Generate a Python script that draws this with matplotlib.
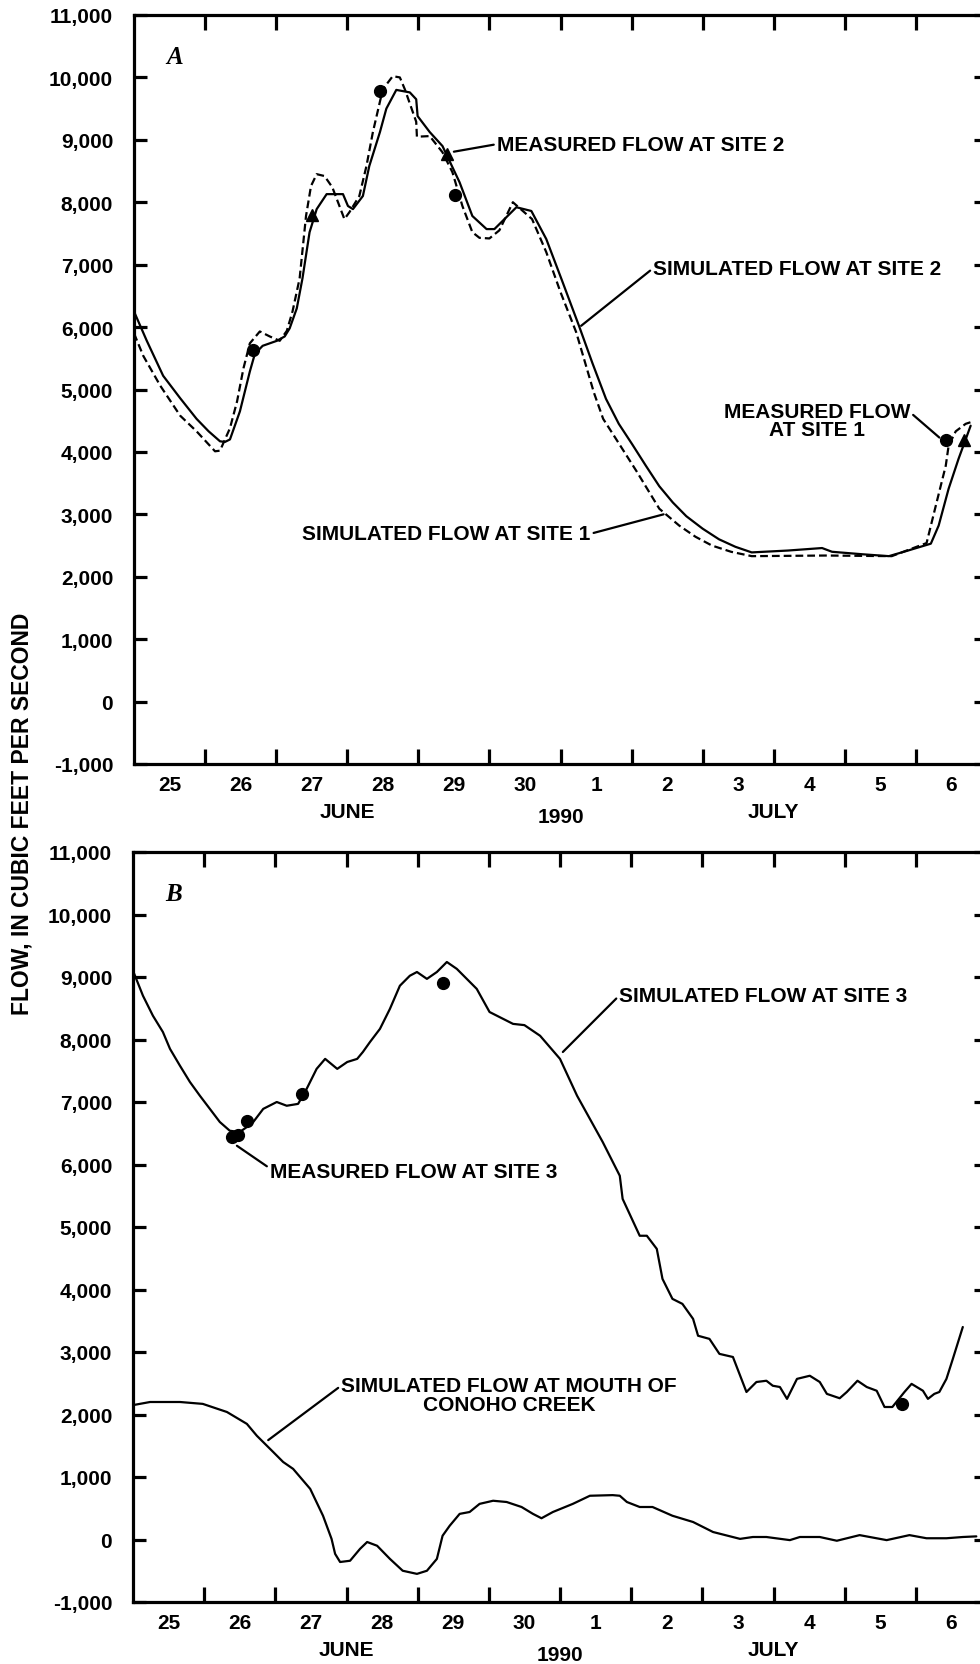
import matplotlib
matplotlib.use("Agg")
import matplotlib.pyplot as plt
import matplotlib.transforms as mtransforms

plt.rcParams['font.family'] = ['Liberation Sans', 'DejaVu Sans']
plt.rcParams['font.weight'] = 'bold'

# days counted from 0000 hours June 25, 1990
day_labels = ["25", "26", "27", "28", "29", "30", "1", "2", "3", "4", "5", "6"]
y_ticks = [-1000, 0, 1000, 2000, 3000, 4000, 5000, 6000, 7000, 8000, 9000, 10000, 11000]
y_ticklabels = ["-1,000", "0", "1,000", "2,000", "3,000", "4,000", "5,000",
                "6,000", "7,000", "8,000", "9,000", "10,000", "11,000"]

# panel A -- simulated flow at site 2 (solid)
site2_day = [0.00, 0.18, 0.41, 0.65, 0.88, 1.05, 1.21, 1.28, 1.35, 1.49, 1.63, 1.70,
             1.81, 2.01, 2.12, 2.19, 2.29, 2.37, 2.47, 2.57, 2.71, 2.94, 3.01, 3.08,
             3.22, 3.31, 3.46, 3.55, 3.69, 3.88, 3.97, 3.99, 4.16, 4.34, 4.58, 4.76,
             4.96, 5.07, 5.38, 5.59, 5.80, 6.02, 6.26, 6.45, 6.64, 6.82, 7.01, 7.20,
             7.39, 7.58, 7.77, 8.00, 8.23, 8.46, 8.69, 9.20, 9.68, 9.82, 10.25, 10.62,
             10.86, 11.21, 11.32, 11.46, 11.60, 11.69, 11.77]
site2_flow = [6250, 5780, 5220, 4860, 4530, 4330, 4170, 4160, 4200, 4650, 5290, 5570,
              5700, 5780, 5850, 5980, 6300, 6780, 7520, 7890, 8130, 8130, 7940, 7890,
              8100, 8580, 9125, 9500, 9800, 9760, 9650, 9380, 9125, 8900, 8320, 7780,
              7570, 7570, 7920, 7860, 7410, 6750, 6020, 5420, 4850, 4450, 4120, 3780,
              3450, 3190, 2970, 2770, 2600, 2480, 2390, 2420, 2460, 2400, 2360, 2330,
              2410, 2530, 2820, 3410, 3890, 4170, 4420]

# panel A -- simulated flow at site 1 (dashed)
site1_day = [0.00, 0.13, 0.37, 0.65, 0.88, 1.14, 1.21, 1.35, 1.45, 1.54, 1.63, 1.77,
             1.91, 2.05, 2.15, 2.23, 2.33, 2.42, 2.49, 2.57, 2.68, 2.79, 2.96, 3.03,
             3.17, 3.27, 3.36, 3.50, 3.64, 3.74, 3.81, 3.97, 3.98, 4.16, 4.34, 4.48,
             4.62, 4.76, 4.86, 5.00, 5.14, 5.33, 5.60, 5.80, 6.00, 6.22, 6.47, 6.60,
             6.78, 7.07, 7.39, 7.67, 7.90, 8.13, 8.40, 8.69, 9.73, 10.66, 11.15, 11.28,
             11.42, 11.46, 11.56, 11.70, 11.78]
site1_flow = [5900, 5540, 5060, 4580, 4330, 4010, 4020, 4380, 4810, 5340, 5740, 5930,
              5850, 5780, 5940, 6250, 6780, 7780, 8260, 8450, 8420, 8240, 7730, 7840,
              8100, 8580, 9120, 9810, 10020, 10000, 9810, 9290, 9050, 9060, 8800, 8480,
              7940, 7520, 7430, 7420, 7550, 8000, 7730, 7200, 6560, 5920, 4950, 4530,
              4210, 3690, 3090, 2820, 2640, 2500, 2400, 2330, 2340, 2330, 2540, 3140,
              3780, 4100, 4330, 4450, 4480]

# panel A -- measured flows
meas1_day = [1.67, 3.46, 4.52, 11.43]
meas1_flow = [5630, 9780, 8110, 4190]
meas2_day = [2.50, 4.41, 11.67]
meas2_flow = [7790, 8770, 4190]

# panel B -- simulated flow at site 3
site3_day = [0.00, 0.14, 0.28, 0.42, 0.52, 0.66, 0.80, 0.94, 1.08, 1.22, 1.36, 1.50,
             1.60, 1.69, 1.83, 2.02, 2.16, 2.32, 2.44, 2.58, 2.70, 2.87, 3.01, 3.15,
             3.23, 3.33, 3.47, 3.61, 3.75, 3.89, 3.99, 4.13, 4.27, 4.41, 4.55, 4.69,
             4.83, 5.01, 5.34, 5.50, 5.72, 6.00, 6.24, 6.60, 6.84, 6.88, 7.12, 7.22,
             7.36, 7.44, 7.58, 7.72, 7.87, 7.94, 8.10, 8.24, 8.43, 8.62, 8.76, 8.90,
             8.99, 9.09, 9.19, 9.33, 9.51, 9.65, 9.75, 9.93, 10.03, 10.18, 10.31,
             10.45, 10.56, 10.67, 10.84, 10.94, 11.10, 11.17, 11.26, 11.33, 11.43,
             11.52, 11.66]
site3_flow = [9100, 8700, 8380, 8120, 7850, 7580, 7320, 7100, 6890, 6680, 6540, 6520,
              6600, 6680, 6890, 7000, 6940, 6970, 7210, 7530, 7690, 7530, 7640, 7690,
              7800, 7960, 8170, 8490, 8860, 9020, 9080, 8970, 9080, 9240, 9130, 8970,
              8810, 8440, 8250, 8230, 8060, 7690, 7100, 6360, 5820, 5450, 4860, 4860,
              4650, 4170, 3850, 3770, 3530, 3260, 3210, 2970, 2920, 2360, 2520, 2540,
              2460, 2440, 2250, 2570, 2620, 2520, 2330, 2260, 2360, 2540, 2440,
              2380, 2120, 2120, 2360, 2490, 2380, 2250, 2330, 2360, 2570,
              2890, 3400]

meas3_day = [1.39, 1.47, 1.60, 2.37, 4.35, 10.80]
meas3_flow = [6440, 6470, 6700, 7130, 8900, 2170]

# panel B -- simulated flow at mouth of Conoho Creek
conoho_day = [0.00, 0.24, 0.66, 0.98, 1.32, 1.60, 1.74, 1.97, 2.11, 2.25, 2.49, 2.67,
              2.79, 2.84, 2.91, 3.05, 3.19, 3.29, 3.43, 3.61, 3.79, 3.99, 4.13, 4.27,
              4.35, 4.45, 4.59, 4.73, 4.87, 5.06, 5.25, 5.46, 5.62, 5.74, 5.90, 6.18,
              6.42, 6.74, 6.84, 6.94, 7.12, 7.30, 7.58, 7.87, 8.15, 8.53, 8.71, 8.90,
              9.23, 9.37, 9.65, 9.89, 10.21, 10.59, 10.91, 11.15, 11.43, 11.66, 11.85]
conoho_flow = [2150, 2200, 2200, 2170, 2040, 1850, 1660, 1400, 1240, 1130, 810, 380,
               10, -230, -360, -340, -150, -40, -100, -310, -500, -550, -500, -310,
               60, 220, 410, 440, 570, 620, 600, 520, 410, 340, 440, 570,
               700, 710, 700, 600, 520, 520, 380, 280, 120, 10, 40, 40,
               -10, 40, 40, -20, 70, -10, 70, 20, 20, 40, 50]

fig = plt.figure(figsize=(9.8, 16.65), dpi=100)
axA = fig.add_axes([134 / 980, 1 - 765 / 1665, 853 / 980, 749 / 1665])
axB = fig.add_axes([133 / 980, 1 - 1603 / 1665, 854 / 980, 750 / 1665])

FS = 15


def style_axis(ax, letter):
    ax.set_xlim(0, 12)
    ax.set_ylim(-1000, 11000)
    for s in ax.spines.values():
        s.set_linewidth(2.3)
    ax.set_yticks(y_ticks)
    ax.set_yticklabels(y_ticklabels, fontsize=FS, fontweight='bold')
    ax.tick_params(axis='y', which='major', direction='in', length=9.5, width=2.3,
                   pad=15, left=True, right=True)
    ax.set_xticks(range(1, 12))
    ax.set_xticklabels([])
    ax.tick_params(axis='x', which='major', direction='in', length=11, width=2.3,
                   top=True, bottom=True)
    ax.set_xticks([i + 0.5 for i in range(12)], minor=True)
    ax.set_xticklabels(day_labels, minor=True, fontsize=FS, fontweight='bold')
    ax.tick_params(axis='x', which='minor', length=0, pad=8)
    ax.text(0.048, 0.944, letter, transform=ax.transAxes, fontsize=18,
            family='Liberation Serif', fontweight='bold', style='italic',
            ha='center', va='center')
    trans = mtransforms.blended_transform_factory(ax.transData, ax.transAxes)
    ax.text(3.0, -0.063, "JUNE", transform=trans, ha='center', va='center', fontsize=FS)
    ax.text(6.0, -0.070, "1990", transform=trans, ha='center', va='center', fontsize=FS)
    ax.text(9.0, -0.064, "JULY", transform=trans, ha='center', va='center', fontsize=FS)


style_axis(axA, "A")
style_axis(axB, "B")

line_kw = dict(color='black', lw=1.6, solid_capstyle='round', solid_joinstyle='round')
axA.plot(site2_day, site2_flow, **line_kw)
axA.plot(site1_day, site1_flow, color='black', lw=1.6, dashes=(3.5, 1.8))
axA.plot(meas1_day, meas1_flow, 'o', color='black', ms=8.5, zorder=5)
axA.plot(meas2_day, meas2_flow, '^', color='black', ms=9, zorder=5)

axB.plot(site3_day, site3_flow, **line_kw)
axB.plot(conoho_day, conoho_flow, **line_kw)
axB.plot(meas3_day, meas3_flow, 'o', color='black', ms=8.5, zorder=5)

lead = dict(arrowstyle='-', color='black', lw=1.6, shrinkA=0, shrinkB=0)

axA.annotate("MEASURED FLOW AT SITE 2", xy=(4.5, 8810), xytext=(5.1, 8930),
             ha='left', va='center', fontsize=FS,
             arrowprops=dict(relpos=(0, 0.5), **lead))
axA.annotate("SIMULATED FLOW AT SITE 2", xy=(6.29, 6020), xytext=(7.3, 6940),
             ha='left', va='center', fontsize=FS,
             arrowprops=dict(relpos=(0, 0.5), **lead))
axA.annotate("MEASURED FLOW\nAT SITE 1", xy=(11.33, 4230), xytext=(9.61, 4500),
             ha='center', va='center', fontsize=FS, linespacing=0.95,
             arrowprops=dict(relpos=(1, 0.72), **lead))
axA.annotate("SIMULATED FLOW AT SITE 1", xy=(7.45, 3000), xytext=(2.37, 2690),
             ha='left', va='center', fontsize=FS,
             arrowprops=dict(relpos=(1, 0.5), **lead))

axB.annotate("SIMULATED FLOW AT SITE 3", xy=(6.04, 7800), xytext=(6.83, 8700),
             ha='left', va='center', fontsize=FS,
             arrowprops=dict(relpos=(0, 0.5), **lead))
axB.annotate("MEASURED FLOW AT SITE 3", xy=(1.46, 6300), xytext=(1.92, 5880),
             ha='left', va='center', fontsize=FS,
             arrowprops=dict(relpos=(0, 0.7), **lead))
axB.annotate("SIMULATED FLOW AT MOUTH OF\nCONOHO CREEK", xy=(1.90, 1590),
             xytext=(5.28, 2310), ha='center', va='center', fontsize=FS,
             linespacing=0.95, multialignment='center',
             arrowprops=dict(relpos=(0, 0.75), **lead))

fig.text(22 / 980, 1 - 814 / 1665, "FLOW, IN CUBIC FEET PER SECOND", rotation=90,
         ha='center', va='center', fontsize=16.5, fontweight='bold')

fig.savefig("out.png", dpi=100)
